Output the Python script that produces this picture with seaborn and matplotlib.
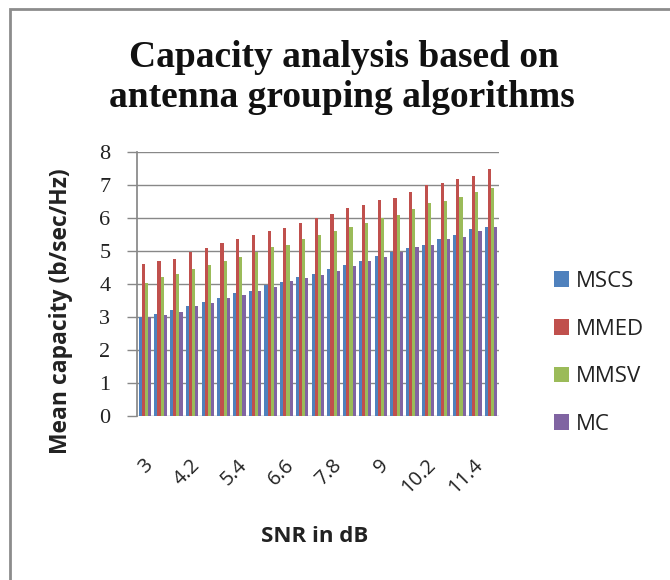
import matplotlib
matplotlib.use("Agg")
import matplotlib.pyplot as plt
import matplotlib.transforms as mtransforms
import seaborn as sns
import pandas as pd
from matplotlib.patches import Rectangle

snr = ["3", "3.4", "3.8", "4.2", "4.6", "5", "5.4", "5.8", "6.2", "6.6", "7", "7.4",
       "7.8", "8.2", "8.6", "9", "9.4", "9.8", "10.2", "10.6", "11", "11.4", "11.8"]
mscs = [3.01, 3.09, 3.21, 3.33, 3.45, 3.58, 3.72, 3.80, 3.98, 4.06, 4.20, 4.30,
        4.44, 4.57, 4.71, 4.85, 4.97, 5.09, 5.18, 5.35, 5.48, 5.66, 5.74]
mmed = [4.61, 4.71, 4.77, 4.96, 5.10, 5.24, 5.35, 5.49, 5.61, 5.71, 5.84, 6.00,
        6.12, 6.29, 6.38, 6.53, 6.59, 6.78, 7.00, 7.05, 7.17, 7.27, 7.47]
mmsv = [4.04, 4.20, 4.30, 4.44, 4.58, 4.71, 4.81, 4.96, 5.13, 5.19, 5.35, 5.48,
        5.62, 5.74, 5.86, 6.01, 6.08, 6.26, 6.44, 6.52, 6.63, 6.80, 6.90]
mc = [3.00, 3.06, 3.16, 3.33, 3.41, 3.56, 3.66, 3.80, 3.90, 4.08, 4.17, 4.28,
      4.40, 4.55, 4.69, 4.81, 4.97, 5.11, 5.18, 5.35, 5.43, 5.59, 5.74]
series = ["MSCS", "MMED", "MMSV", "MC"]
tick_labels = ["3", "4.2", "5.4", "6.6", "7.8", "9", "10.2", "11.4"]

rows = []
for name, vals in zip(series, [mscs, mmed, mmsv, mc]):
    for s, v in zip(snr, vals):
        rows.append({"SNR": s, "Capacity": v, "Algorithm": name})
df = pd.DataFrame(rows)

sns.set_theme(style="white")
plt.rcParams["font.family"] = ["Open Sans", "DejaVu Sans"]

fig = plt.figure(figsize=(6.7, 5.8), dpi=100)
ax = fig.add_axes([0.2045, 0.2828, 0.540, 0.4552])

palette = {"MSCS": "#4F81BD", "MMED": "#C0504D", "MMSV": "#9BBB59", "MC": "#8064A2"}
sns.barplot(data=df, x="SNR", y="Capacity", hue="Algorithm", order=snr,
            hue_order=series, palette=palette, width=0.8, saturation=1,
            errorbar=None, ax=ax, linewidth=0, zorder=3)

grid_c = "#888888"
ax.set_ylim(0, 8)
ax.set_xlim(-0.5, len(snr) - 0.5)
ax.set_yticks(range(0, 9))
ax.set_yticklabels([str(i) for i in range(0, 9)], fontsize=16,
                   family="Liberation Serif", color="#222222")
ax.yaxis.grid(True, color=grid_c, linewidth=1.0, zorder=0)
ax.set_axisbelow(True)
for sp in ["top", "right", "bottom"]:
    ax.spines[sp].set_visible(False)
ax.spines["left"].set_color(grid_c)
ax.tick_params(axis="y", left=True, length=7.2, width=1.0, color=grid_c, pad=12)
ax.tick_params(axis="x", length=0, pad=28)

tick_pos = [snr.index(t) for t in tick_labels]
ax.set_xticks(tick_pos)
ax.set_xticklabels(tick_labels, rotation=45, ha="right", rotation_mode="anchor",
                   fontsize=14.5, color="#222222")
shift = mtransforms.ScaledTranslation(-2 / 100, 0, fig.dpi_scale_trans)
for lab in ax.get_xticklabels():
    lab.set_transform(lab.get_transform() + shift)

ax.set_xlabel("SNR in dB", fontsize=16, fontweight="bold", color="#222222")
ax.xaxis.set_label_coords(0.49, -0.458)
ax.xaxis.label.set_va("center")
ax.set_ylabel("Mean capacity (b/sec/Hz)", fontsize=16.5, fontweight="bold",
              color="#222222")
ax.yaxis.set_label_coords(-0.209, 0.398)
ax.yaxis.label.set_va("center")

leg = ax.legend(loc="center left", bbox_to_anchor=(1.152, 0.239), frameon=False,
                fontsize=16, handlelength=0.7, handleheight=0.7, handletextpad=0.3,
                labelspacing=1.2, borderpad=0, borderaxespad=0)
for t in leg.get_texts():
    t.set_color("#222222")

fig.text(0.513, 1 - 67 / 580, "Capacity analysis based on",
         ha="center", va="baseline", fontsize=27, fontweight="bold",
         family="Liberation Serif", color="#111111")
fig.text(0.511, 1 - 107 / 580, "antenna grouping algorithms",
         ha="center", va="baseline", fontsize=27, fontweight="bold",
         family="Liberation Serif", color="#111111")

fig.patches.append(Rectangle((10 / 670, -0.05), 1.2, 1.05 - 9 / 580,
                             transform=fig.transFigure, fill=False,
                             edgecolor="#8c8c8c", linewidth=2))

fig.savefig("out.png", dpi=100)
